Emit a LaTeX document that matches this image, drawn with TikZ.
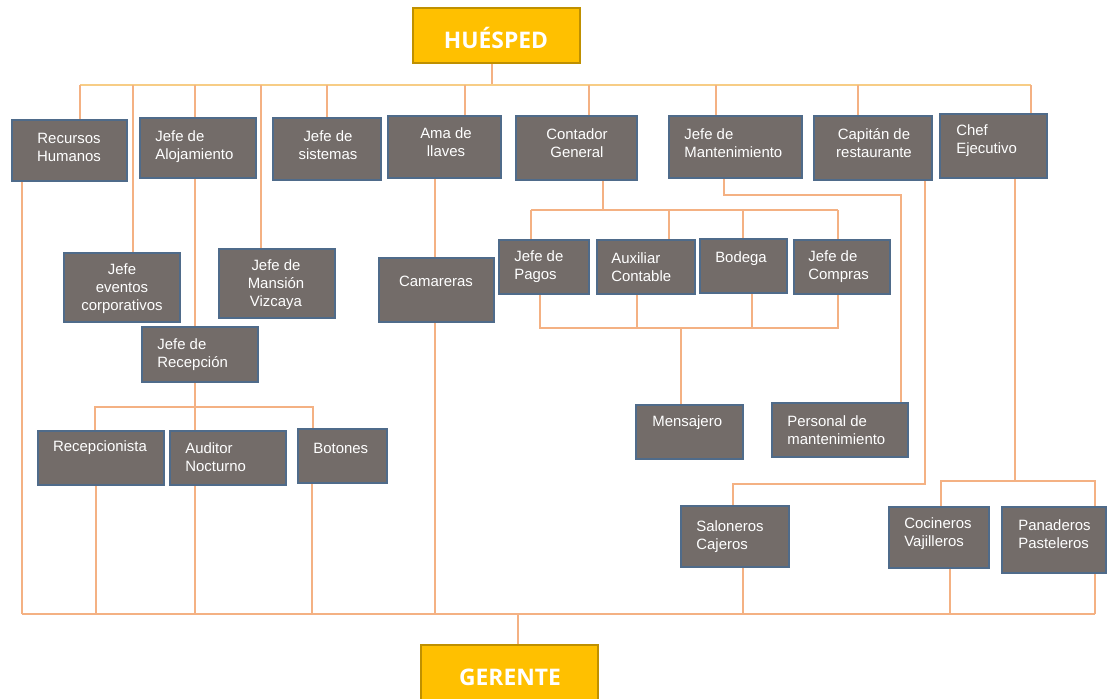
\documentclass[tikz,border=0pt]{standalone}
\usepackage{fontspec}
\setmainfont{Liberation Sans}
\newfontfamily\titlefont{Open Sans}
\usetikzlibrary{fit}
\pgfdeclarelayer{paper}
\pgfdeclarelayer{bg}
\pgfsetlayers{paper,bg,main}
\definecolor{boxfill}{HTML}{736C69}
\definecolor{boxedge}{HTML}{4F6B8A}
\definecolor{gold}{HTML}{FFC000}
\definecolor{goldedge}{HTML}{BF9000}
\definecolor{conn}{HTML}{F4B183}
\definecolor{topconn}{HTML}{F7CD86}
\begin{document}
\begin{tikzpicture}[x=0.02cm,y=-0.02cm,
  box/.style={draw=boxedge, fill=boxfill, line width=0.9pt, inner sep=0pt},
  goldbox/.style={draw=goldedge, fill=gold, line width=1.3pt, inner sep=0pt},
  lbl/.style={text=white, font=\fontsize{8.5}{10.2}\selectfont, inner sep=0pt},
  lblc/.style={lbl, align=center},
  lbll/.style={lbl, align=left, anchor=west},
  ttl/.style={text=white, font=\titlefont\bfseries\fontsize{13}{15}\selectfont, inner sep=0pt},
  ln/.style={draw=conn, line width=0.8pt},
  tln/.style={draw=topconn, line width=0.9pt}]
\useasboundingbox (0,0) rectangle (1107,698);
\begin{pgfonlayer}{paper}
\fill[white] (0,0) rectangle (1107,698);
\end{pgfonlayer}

% gold boxes
\node[goldbox, fit={(413,8) (580,63)}] (huesped) {};
\node[ttl] (huesped-t) at (496,38) {HUÉSPED};
\node[goldbox, fit={(421,645) (598,706)}] (gerente) {};
\node[ttl] (gerente-t) at (510,677) {GERENTE};

% row 1
\node[box, fit={(12,120) (127,181)}] (rh) {};
\node[box, fit={(140,118) (256,178)}] (aloj) {};
\node[box, fit={(273,118) (381,180)}] (sist) {};
\node[box, fit={(388,116) (501,178)}] (ama) {};
\node[box, fit={(516,116) (637,180)}] (cont) {};
\node[box, fit={(669,116) (802,178)}] (mant) {};
\node[box, fit={(814,116) (932,180)}] (cap) {};
\node[box, fit={(940,114) (1047,178)}] (chef) {};
% row 2
\node[box, fit={(64,253) (180,322)}] (event) {};
\node[box, fit={(219,249) (335,318)}] (mans) {};
\node[box, fit={(379,258) (494,322)}] (cam) {};
\node[box, fit={(499,240) (589,294)}] (pagos) {};
\node[box, fit={(597,240) (695,294)}] (aux) {};
\node[box, fit={(700,239) (787,293)}] (bod) {};
\node[box, fit={(794,240) (890,294)}] (comp) {};
\node[box, fit={(142,327) (258,382)}] (recep) {};
% row 3
\node[box, fit={(38,431) (164,485)}] (recepc) {};
\node[box, fit={(170,431) (286,485)}] (audit) {};
\node[box, fit={(298,429) (387,483)}] (bot) {};
\node[box, fit={(636,405) (743,459)}] (mens) {};
\node[box, fit={(772,403) (908,457)}] (pers) {};
% row 4
\node[box, fit={(681,506) (789,567)}] (salon) {};
\node[box, fit={(889,507) (989,568)}] (coci) {};
\node[box, fit={(1002,507) (1106,573)}] (pana) {};

% labels
\node[lblc] (rh-t) at (69,147) {Recursos\\Humanos};
\node[lbll] (aloj-t) at (155,147) {Jefe de\\Alojamiento};
\node[lblc] (sist-t) at (328,145) {Jefe de\\sistemas};
\node[lblc] (ama-t) at (446,142) {Ama de\\llaves};
\node[lblc] (cont-t) at (577,143) {Contador\\General};
\node[lbll] (mant-t) at (684,143) {Jefe de\\Mantenimiento};
\node[lblc] (cap-t) at (874,143) {Capitán de\\restaurante};
\node[lbll] (chef-t) at (956,141) {Chef\\Ejecutivo};
\node[lblc] (event-t) at (122,289) {Jefe\\eventos\\corporativos};
\node[lblc] (mans-t) at (276,285) {Jefe de\\Mansión\\Vizcaya};
\node[lblc] (cam-t) at (436,281) {Camareras};
\node[lbll] (pagos-t) at (514,267) {Jefe de\\Pagos};
\node[lbll] (aux-t) at (611,267) {Auxiliar\\Contable};
\node[lblc] (bod-t) at (741,259) {Bodega};
\node[lbll] (comp-t) at (808,267) {Jefe de\\Compras};
\node[lbll] (recep-t) at (157,355) {Jefe de\\Recepción};
\node[lblc] (recepc-t) at (100,448) {Recepcionista};
\node[lbll] (audit-t) at (185,457) {Auditor\\Nocturno};
\node[lbll] (bot-t) at (313,448) {Botones};
\node[lbll] (mens-t) at (652,423) {Mensajero};
\node[lbll] (pers-t) at (787,430) {Personal de\\mantenimiento};
\node[lbll] (salon-t) at (696,537) {Saloneros\\Cajeros};
\node[lbll] (coci-t) at (904,534) {Cocineros\\Vajilleros};
\node[lbll] (pana-t) at (1018,534) {Panaderos\\Pasteleros};

% connector coordinates
\coordinate (hb) at (492,85);
\coordinate (t1) at (80,85);
\coordinate (t2) at (133,85);
\coordinate (t3) at (195,85);
\coordinate (t4) at (261,85);
\coordinate (t5) at (327,85);
\coordinate (t6) at (465,85);
\coordinate (t7) at (589,85);
\coordinate (t8) at (716,85);
\coordinate (t9) at (858,85);
\coordinate (t10) at (1031,85);

\coordinate (bA) at (22,614);
\coordinate (bB) at (96,614);
\coordinate (bC) at (195,614);
\coordinate (bD) at (312,614);
\coordinate (bE) at (435,614);
\coordinate (bF) at (743,614);
\coordinate (bG) at (950,614);
\coordinate (bH) at (1095,614);
\coordinate (bM) at (518,614);

\coordinate (r1) at (95,407);
\coordinate (r2) at (313,407);

\coordinate (k0) at (603,210);
\coordinate (k1) at (531,210);
\coordinate (k2) at (669,210);
\coordinate (k3) at (743,210);
\coordinate (k4) at (838,210);
\coordinate (m1) at (540,328);
\coordinate (m2) at (637,328);
\coordinate (m3) at (752,328);
\coordinate (m4) at (838,328);
\coordinate (m0) at (681,328);

\coordinate (p1) at (724,195);
\coordinate (p2) at (901,195);
\coordinate (s1) at (925,484);
\coordinate (s2) at (733,484);
\coordinate (c0) at (1015,481);
\coordinate (c1) at (941,481);
\coordinate (c2) at (1095,481);

\begin{pgfonlayer}{bg}
% top bus
\draw[ln] (hb |- huesped.south) -- (hb);
\draw[tln] (t1) -- (t10);
\draw[ln] (t1) -- (t1 |- rh.north);
\draw[ln] (t2) -- (t2 |- event.north);
\draw[ln] (t3) -- (t3 |- aloj.north);
\draw[ln] (t4) -- (t4 |- mans.north);
\draw[ln] (t5) -- (t5 |- sist.north);
\draw[ln] (t6) -- (t6 |- ama.north);
\draw[ln] (t7) -- (t7 |- cont.north);
\draw[ln] (t8) -- (t8 |- mant.north);
\draw[ln] (t9) -- (t9 |- cap.north);
\draw[ln] (t10) -- (t10 |- chef.north);
% bottom bus
\draw[ln] (bA) -- (bH);
\draw[ln] (bA |- rh.south) -- (bA);
\draw[ln] (bB |- recepc.south) -- (bB);
\draw[ln] (bC |- aloj.south) -- (bC);
\draw[ln] (bD |- bot.south) -- (bD);
\draw[ln] (bE |- ama.south) -- (bE);
\draw[ln] (bF |- salon.south) -- (bF);
\draw[ln] (bG |- coci.south) -- (bG);
\draw[ln] (bH |- pana.south) -- (bH);
\draw[ln] (bM) -- (bM |- gerente.north);
% recepcion
\draw[ln] (r1 |- recepc.north) -- (r1) -- (r2) -- (r2 |- bot.north);
% contador
\draw[ln] (k0 |- cont.south) -- (k0);
\draw[ln] (k1) -- (k4);
\draw[ln] (k1) -- (k1 |- pagos.north);
\draw[ln] (k2) -- (k2 |- aux.north);
\draw[ln] (k3) -- (k3 |- bod.north);
\draw[ln] (k4) -- (k4 |- comp.north);
\draw[ln] (m1 |- pagos.south) -- (m1) -- (m4) -- (m4 |- comp.south);
\draw[ln] (m2 |- aux.south) -- (m2);
\draw[ln] (m3 |- bod.south) -- (m3);
\draw[ln] (m0) -- (m0 |- mens.north);
% mantenimiento
\draw[ln] (p1 |- mant.south) -- (p1) -- (p2) -- (p2 |- pers.north);
% capitan
\draw[ln] (s1 |- cap.south) -- (s1) -- (s2) -- (s2 |- salon.north);
% chef
\draw[ln] (c0 |- chef.south) -- (c0);
\draw[ln] (c1 |- coci.north) -- (c1) -- (c2) -- (c2 |- pana.north);
\end{pgfonlayer}
\end{tikzpicture}
\end{document}
